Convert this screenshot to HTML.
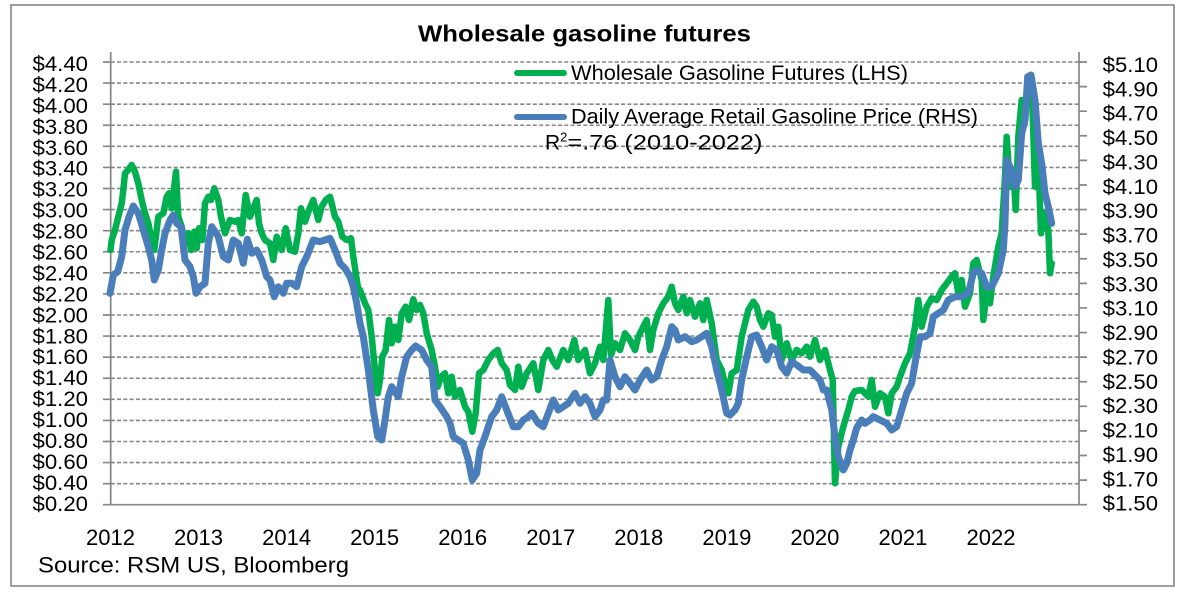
<!DOCTYPE html>
<html><head><meta charset="utf-8"><style>
html,body{margin:0;padding:0;background:#fff;}
svg{display:block;font-family:"Liberation Sans",Arial,sans-serif;}
</style></head><body>
<svg width="1185" height="599" viewBox="0 0 1185 599" xmlns="http://www.w3.org/2000/svg">
<rect x="0" y="0" width="1185" height="599" fill="#fff"/>
<rect x="11" y="5" width="1163" height="581" fill="none" stroke="#868686" stroke-width="1.6"/>
<text x="418" y="41.7" font-size="23" font-weight="bold" textLength="333" lengthAdjust="spacingAndGlyphs" fill="#000">Wholesale gasoline futures</text>
<g stroke="#868686" stroke-width="1.6" stroke-dasharray="4 2.3" fill="none">
<line x1="110.7" y1="62" x2="1079" y2="62"/>
<line x1="110.7" y1="83.08" x2="1079" y2="83.08"/>
<line x1="110.7" y1="104.17" x2="1079" y2="104.17"/>
<line x1="110.7" y1="125.25" x2="1079" y2="125.25"/>
<line x1="110.7" y1="146.33" x2="1079" y2="146.33"/>
<line x1="110.7" y1="167.42" x2="1079" y2="167.42"/>
<line x1="110.7" y1="188.5" x2="1079" y2="188.5"/>
<line x1="110.7" y1="209.58" x2="1079" y2="209.58"/>
<line x1="110.7" y1="230.67" x2="1079" y2="230.67"/>
<line x1="110.7" y1="251.75" x2="1079" y2="251.75"/>
<line x1="110.7" y1="272.83" x2="1079" y2="272.83"/>
<line x1="110.7" y1="293.92" x2="1079" y2="293.92"/>
<line x1="110.7" y1="315" x2="1079" y2="315"/>
<line x1="110.7" y1="336.08" x2="1079" y2="336.08"/>
<line x1="110.7" y1="357.17" x2="1079" y2="357.17"/>
<line x1="110.7" y1="378.25" x2="1079" y2="378.25"/>
<line x1="110.7" y1="399.33" x2="1079" y2="399.33"/>
<line x1="110.7" y1="420.42" x2="1079" y2="420.42"/>
<line x1="110.7" y1="441.5" x2="1079" y2="441.5"/>
<line x1="110.7" y1="462.58" x2="1079" y2="462.58"/>
<line x1="110.7" y1="483.67" x2="1079" y2="483.67"/>
</g>
<g stroke="#868686" stroke-width="1.7" fill="none">
<line x1="110.7" y1="52" x2="110.7" y2="504.7"/>
<line x1="1079" y1="52" x2="1079" y2="504.7"/>
<line x1="103" y1="504.7" x2="1087" y2="504.7"/>
<path d="M103 62H110.7M103 83.08H110.7M103 104.17H110.7M103 125.25H110.7M103 146.33H110.7M103 167.42H110.7M103 188.5H110.7M103 209.58H110.7M103 230.67H110.7M103 251.75H110.7M103 272.83H110.7M103 293.92H110.7M103 315H110.7M103 336.08H110.7M103 357.17H110.7M103 378.25H110.7M103 399.33H110.7M103 420.42H110.7M103 441.5H110.7M103 462.58H110.7M103 483.67H110.7"/>
<path d="M1079 62H1087M1079 86.59H1087M1079 111.19H1087M1079 135.78H1087M1079 160.38H1087M1079 184.97H1087M1079 209.57H1087M1079 234.16H1087M1079 258.75H1087M1079 283.35H1087M1079 307.94H1087M1079 332.54H1087M1079 357.13H1087M1079 381.73H1087M1079 406.32H1087M1079 430.91H1087M1079 455.51H1087M1079 480.1H1087"/>
</g>
<g font-size="21" fill="#000" text-anchor="end">
<text x="88" y="71" textLength="55.5" lengthAdjust="spacingAndGlyphs">$4.40</text>
<text x="88" y="91.94" textLength="55.5" lengthAdjust="spacingAndGlyphs">$4.20</text>
<text x="88" y="112.89" textLength="55.5" lengthAdjust="spacingAndGlyphs">$4.00</text>
<text x="88" y="133.83" textLength="55.5" lengthAdjust="spacingAndGlyphs">$3.80</text>
<text x="88" y="154.78" textLength="55.5" lengthAdjust="spacingAndGlyphs">$3.60</text>
<text x="88" y="175.72" textLength="55.5" lengthAdjust="spacingAndGlyphs">$3.40</text>
<text x="88" y="196.67" textLength="55.5" lengthAdjust="spacingAndGlyphs">$3.20</text>
<text x="88" y="217.61" textLength="55.5" lengthAdjust="spacingAndGlyphs">$3.00</text>
<text x="88" y="238.56" textLength="55.5" lengthAdjust="spacingAndGlyphs">$2.80</text>
<text x="88" y="259.5" textLength="55.5" lengthAdjust="spacingAndGlyphs">$2.60</text>
<text x="88" y="280.44" textLength="55.5" lengthAdjust="spacingAndGlyphs">$2.40</text>
<text x="88" y="301.39" textLength="55.5" lengthAdjust="spacingAndGlyphs">$2.20</text>
<text x="88" y="322.33" textLength="55.5" lengthAdjust="spacingAndGlyphs">$2.00</text>
<text x="88" y="343.28" textLength="55.5" lengthAdjust="spacingAndGlyphs">$1.80</text>
<text x="88" y="364.22" textLength="55.5" lengthAdjust="spacingAndGlyphs">$1.60</text>
<text x="88" y="385.17" textLength="55.5" lengthAdjust="spacingAndGlyphs">$1.40</text>
<text x="88" y="406.11" textLength="55.5" lengthAdjust="spacingAndGlyphs">$1.20</text>
<text x="88" y="427.06" textLength="55.5" lengthAdjust="spacingAndGlyphs">$1.00</text>
<text x="88" y="448" textLength="55.5" lengthAdjust="spacingAndGlyphs">$0.80</text>
<text x="88" y="468.94" textLength="55.5" lengthAdjust="spacingAndGlyphs">$0.60</text>
<text x="88" y="489.89" textLength="55.5" lengthAdjust="spacingAndGlyphs">$0.40</text>
<text x="88" y="510.83" textLength="55.5" lengthAdjust="spacingAndGlyphs">$0.20</text>
</g>
<g font-size="21" fill="#000">
<text x="1102.7" y="72" textLength="55.3" lengthAdjust="spacingAndGlyphs">$5.10</text>
<text x="1102.7" y="96.37" textLength="55.3" lengthAdjust="spacingAndGlyphs">$4.90</text>
<text x="1102.7" y="120.74" textLength="55.3" lengthAdjust="spacingAndGlyphs">$4.70</text>
<text x="1102.7" y="145.12" textLength="55.3" lengthAdjust="spacingAndGlyphs">$4.50</text>
<text x="1102.7" y="169.49" textLength="55.3" lengthAdjust="spacingAndGlyphs">$4.30</text>
<text x="1102.7" y="193.86" textLength="55.3" lengthAdjust="spacingAndGlyphs">$4.10</text>
<text x="1102.7" y="218.23" textLength="55.3" lengthAdjust="spacingAndGlyphs">$3.90</text>
<text x="1102.7" y="242.61" textLength="55.3" lengthAdjust="spacingAndGlyphs">$3.70</text>
<text x="1102.7" y="266.98" textLength="55.3" lengthAdjust="spacingAndGlyphs">$3.50</text>
<text x="1102.7" y="291.35" textLength="55.3" lengthAdjust="spacingAndGlyphs">$3.30</text>
<text x="1102.7" y="315.72" textLength="55.3" lengthAdjust="spacingAndGlyphs">$3.10</text>
<text x="1102.7" y="340.09" textLength="55.3" lengthAdjust="spacingAndGlyphs">$2.90</text>
<text x="1102.7" y="364.47" textLength="55.3" lengthAdjust="spacingAndGlyphs">$2.70</text>
<text x="1102.7" y="388.84" textLength="55.3" lengthAdjust="spacingAndGlyphs">$2.50</text>
<text x="1102.7" y="413.21" textLength="55.3" lengthAdjust="spacingAndGlyphs">$2.30</text>
<text x="1102.7" y="437.58" textLength="55.3" lengthAdjust="spacingAndGlyphs">$2.10</text>
<text x="1102.7" y="461.96" textLength="55.3" lengthAdjust="spacingAndGlyphs">$1.90</text>
<text x="1102.7" y="486.33" textLength="55.3" lengthAdjust="spacingAndGlyphs">$1.70</text>
<text x="1102.7" y="510.7" textLength="55.3" lengthAdjust="spacingAndGlyphs">$1.50</text>
</g>
<g font-size="22" fill="#000" text-anchor="middle">
<text x="110.5" y="545" textLength="49" lengthAdjust="spacingAndGlyphs">2012</text>
<text x="198.55" y="545" textLength="49" lengthAdjust="spacingAndGlyphs">2013</text>
<text x="286.6" y="545" textLength="49" lengthAdjust="spacingAndGlyphs">2014</text>
<text x="374.65" y="545" textLength="49" lengthAdjust="spacingAndGlyphs">2015</text>
<text x="462.7" y="545" textLength="49" lengthAdjust="spacingAndGlyphs">2016</text>
<text x="550.75" y="545" textLength="49" lengthAdjust="spacingAndGlyphs">2017</text>
<text x="638.8" y="545" textLength="49" lengthAdjust="spacingAndGlyphs">2018</text>
<text x="726.85" y="545" textLength="49" lengthAdjust="spacingAndGlyphs">2019</text>
<text x="814.9" y="545" textLength="49" lengthAdjust="spacingAndGlyphs">2020</text>
<text x="902.95" y="545" textLength="49" lengthAdjust="spacingAndGlyphs">2021</text>
<text x="991" y="545" textLength="49" lengthAdjust="spacingAndGlyphs">2022</text>
</g>
<text x="38" y="572.7" font-size="22" fill="#000" textLength="311" lengthAdjust="spacingAndGlyphs">Source: RSM US, Bloomberg</text>

<polyline fill="none" stroke="#00B050" stroke-width="6.5" stroke-linejoin="round" stroke-linecap="round" points="110.5,250 111.7,240 115,230 118.3,216.7 121.7,203.3 123.3,190 125,173.3 128.3,170 131.7,165 135,171.7 138.3,183.3 141.7,200 145,213.3 148.3,223.3 151.7,240 154.3,250 158.3,216.7 163.3,213.3 166.7,196.7 169,193.3 171.7,208.3 176,171.7 178.3,216.7 181.7,226.7 185,243.3 188.3,233.3 191,250 194.3,231.7 196.7,248.3 199,228.3 202.3,240 205,203.3 208.3,196.7 211,200 214.3,188.3 218.3,200 221,216.7 225,233.3 230,220 235,221.7 238.3,220 241.7,233.3 245.7,195 250,216.7 256.7,200 259,223.3 261.7,233.3 265,240 270,243.3 273.3,260 276.7,236.7 281.7,250 285.7,228.3 290,250 295,251.7 298.3,233.3 301,208.3 305,221.7 309,210 313.3,200 318.3,220 321.7,206.7 325.7,200 330,196.7 335,216.7 338.3,221.7 342.3,236.7 346.7,240 351,238.3 353.3,256.7 358.3,290 360,290 365,303.3 368.3,310 371.7,336.7 375,370 377.7,393.3 380,380 382.3,356.7 385.7,350 389,320 391.7,343.3 395,326.7 398.3,340 401.7,313.3 405.7,306.7 409,320 413.3,299.3 416.7,310 420,305 423.3,313.3 426.7,333.3 431.7,350 435,366.7 437.7,386.7 441,376.7 445,373.3 448.3,393.3 451.7,376.7 455,396.7 460,390 465,406.7 468.3,411.7 472.3,431.7 475.7,413.3 479,373.3 483.3,370 488.3,360 493.3,353.3 497.7,350 501.7,363.3 506.7,370 510,385 515,390 518.3,366.7 521.7,386.7 526.7,373.3 533.3,363.3 538.3,390 543.3,360 548.3,350 552.3,360 556.7,366.7 563.3,350 568.3,360 574.3,340 578.3,360 585,350 590,373.3 595,363.3 600,346.7 603.3,360 608.3,300 611,355 615,343.3 620,350 625,333.3 630,340 635,350 638.3,336.7 643.3,326.7 646.7,320 650,350 653.3,330 658.3,313.3 663.3,303.3 668.3,296.7 671.7,286.7 675,303.3 678.3,310 683.3,296.7 686.7,313.3 690,300 695,316.7 700,303.3 703.3,320 706.7,300 711.7,323.3 716.7,360 721.7,370 725,383.3 728.3,393.3 731.7,373.3 736.7,370 741.7,336.7 745,323.3 748.3,310 753.3,301.7 756.7,306.7 760,320 763.3,326.7 768.3,313.3 771.7,315 775,336.7 778.3,326.7 781.7,360 786.7,343.3 791.7,360 796.7,350 801.7,353.3 806.7,346.7 810,356.7 815,340 820,360 825,350 830,370 832.7,380 835,483.3 838.3,446.7 843.3,426.7 848.3,410 851.7,396.7 855,391 861.7,390 868.3,396.7 871.7,380 875,406.7 880,393.3 885,396.7 888.3,413.3 891.7,393.3 896.7,386.7 900,376.7 905,363.3 910,353.3 915,326.7 918.3,300 921.7,326.7 926.7,306.7 931.7,298.3 936.7,300 941.7,290 946.7,283.3 951.7,276.7 955,273.3 958.3,293.3 961.7,280 965,306.7 970,293.3 973.3,263.3 976.7,260 981.7,280 983.3,320 986.7,293.3 990,303.3 993.3,276.7 998.3,246.7 1001.7,233.3 1005,176.7 1006.7,136.7 1010,186.7 1013.3,170 1015.7,210 1018.3,136.7 1021.7,100 1025,120 1028.3,76.7 1031.7,83.3 1035,186.7 1038.3,160 1041,233.3 1044.3,213.3 1048.3,230 1050,273.3 1051.7,263.3"/>

<polyline fill="none" stroke="#4A7EBB" stroke-width="7" stroke-linejoin="round" stroke-linecap="round" points="110,293.3 113.3,275 117.7,271.7 121.7,256.7 125,230 129,216.7 133.3,206 138.3,213.3 143.3,230 148.3,246.7 151.7,260 154.3,280 158.3,270 161.7,250 165,233.3 170,220 173.3,215 176.7,223.3 181,226.7 185,260 190,266.7 193.3,276.7 196,293.3 200,286.7 205,283.3 208.3,243.3 211.7,226.7 218.3,236.7 223.3,256.7 228.3,260 233.3,240 238.3,243.3 243.3,263.3 247.3,239.3 251.7,253.3 256.7,250 261.7,260 266.7,276.7 270,280 274.3,296.7 278.3,286.7 283.3,293.3 286.7,283.3 291.7,283.3 296.7,286.7 301.7,266.7 306.7,256.7 313.3,240 320,241.7 325,240 330,238.3 335,250 340,263.3 345,268.3 350,276.7 353.3,286.7 356.7,303.3 360,323.3 363.3,336.7 368.3,370 373.3,410 377.7,436.7 381.7,440 385,420 388.3,396.7 391.7,386.7 398.3,396.7 401.7,376.7 406.7,356.7 411.7,350 415.7,346 421.7,350 426.7,360 431.7,366.7 435,400 440,406.7 446.7,416.7 450,423.3 453.3,436.7 458.3,440 463.3,443.3 468.3,460 472.3,480 476.7,473.3 480,450 485,436.7 491.7,416.7 496.7,410 501.7,396.7 506.7,410 513.3,426.7 518.3,426.7 523.3,420 528.3,416.7 531.7,413.3 538.3,423.3 543.3,426.7 548.3,413.3 553.3,400 558.3,410 563.3,406.7 568.3,403.3 575,393.3 580,403.3 585,396.7 590,403.3 595,416.7 600,410 603.3,400 606.7,400 610,360 615,376.7 620,386.7 625,376.7 630,383.3 635,390 640,380 646.7,370 651.7,380 656.7,376.7 661.7,360 666.7,346.7 671.7,326.7 675,330 678.3,340 685,336.7 691.7,341.7 696.7,340 701.7,336.7 706.7,333.3 711.7,346.7 716.7,370 721.7,390 726.7,413.3 730,415 735,410 738.3,403.3 741.7,380 746.7,356.7 751.7,336.7 756.7,335 761.7,346.7 766.7,360 771.7,346.7 776.7,350 781.7,366.7 786.7,373.3 791.7,361.7 796.7,365 803.3,370 810,370 815,375 820,380 823.3,390 826.7,390 831.7,410 835,436.7 838.3,456.7 843.3,470 846.7,463.3 850,450 853.3,440 856.7,428 861.7,420 865,423.3 870,420 873.3,416.7 880,420 886.7,423.3 891.7,430 896.7,426.7 901.7,410 906.7,393.3 911.7,383.3 915,363.3 920,336.7 925,336.7 930,333.3 933.3,316.7 938.3,313.3 943.3,310 948.3,300 955,296.7 961.7,296.7 968.3,293.3 973.3,273.3 976.7,270 981.7,273.3 986.7,286.7 991.7,286.7 998.3,273.3 1003.3,250 1005,223.3 1006.7,160 1010,166.7 1015,186.7 1018.3,180 1021.7,133.3 1025,120 1027.7,76.7 1031,75 1035,100 1038.3,143.3 1041.7,163.3 1045,193.3 1048.3,206.7 1051.7,223.3"/>

<line x1="517" y1="73" x2="564" y2="73" stroke="#00B050" stroke-width="6" stroke-linecap="round"/>
<line x1="517" y1="117" x2="564" y2="117" stroke="#4A7EBB" stroke-width="6" stroke-linecap="round"/>
<text x="571" y="80" font-size="21" fill="#000" textLength="337" lengthAdjust="spacingAndGlyphs">Wholesale Gasoline Futures (LHS)</text>
<text x="571" y="123.3" font-size="21" fill="#000" textLength="407" lengthAdjust="spacingAndGlyphs">Daily Average Retail Gasoline Price (RHS)</text>
<text x="545" y="149.3" font-size="21" fill="#000">R<tspan dy="-8" font-size="13">2</tspan><tspan dy="8" textLength="195" lengthAdjust="spacingAndGlyphs">=.76 (2010-2022)</tspan></text>
</svg>
</body></html>
